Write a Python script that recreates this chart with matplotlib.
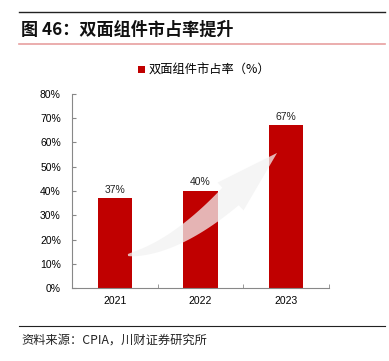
import numpy as np
import matplotlib.pyplot as plt
from matplotlib.patches import Polygon
from matplotlib.lines import Line2D

plt.rcParams['font.family'] = ['Liberation Sans', 'Noto Sans CJK SC', 'DejaVu Sans']

years = ['2021', '2022', '2023']
share = [37, 40, 67]
labels = ['37%', '40%', '67%']
series_name = '双面组件市占率（%）'

fig = plt.figure(figsize=(3.89, 3.61), dpi=100)
ax = fig.add_axes([0.185, 0.202, 0.661, 0.538])
ax_w, ax_h = 257.0, 194.0  # axes size in pixels, used for the arrow shape

x = range(len(years))
bars = ax.bar(x, share, width=0.4, color='#C00000', label=series_name, zorder=2)
for b, t in zip(bars, labels):
    ax.text(b.get_x() + b.get_width() / 2, b.get_height() + 1.5, t,
            ha='center', va='bottom', fontsize=7.5, color='#222222')

# decorative rising arrow (tapered curved shaft + head), built in axes pixels
T = np.array([56.0, 33.0])
C = np.array([158.5, 91.5])
tip = np.array([205.0, 135.0])
Q = C - 1.2 * (tip - C)
s = np.linspace(0, 1, 40)[:, None]
centre = (1 - s) ** 2 * T + 2 * (1 - s) * s * Q + s ** 2 * C
deriv = 2 * (1 - s) * (Q - T) + 2 * s * (C - Q)
normal = np.column_stack([-deriv[:, 1], deriv[:, 0]])
normal /= np.linalg.norm(normal, axis=1)[:, None]
half = (1 + 11 * s.ravel() ** 0.8)[:, None]
upper = centre + half * normal
lower = centre - half * normal
d = (tip - C) / np.linalg.norm(tip - C)
n_end = np.array([-d[1], d[0]])
head_l = C + 19 * n_end
head_r = C - 19 * n_end
pts = np.vstack([upper, head_l, tip, head_r, lower[::-1]])
pts = pts / np.array([ax_w, ax_h])
ax.add_patch(Polygon(pts, closed=True, transform=ax.transAxes,
                     facecolor='#f2f2f2', edgecolor='none', alpha=0.75, zorder=3))

ax.set_xlim(-0.5, 2.5)
ax.set_ylim(0, 80)
ax.set_yticks(range(0, 81, 10))
ax.set_yticklabels([f'{v}%' for v in range(0, 81, 10)], fontsize=7.5)
ax.set_xticks(list(x))
ax.set_xticklabels(years, fontsize=7.5)
ax.set_xticks([0.5, 1.5, 2.5], minor=True)
ax.tick_params(axis='x', which='major', length=0, pad=6)
ax.tick_params(axis='x', which='minor', direction='in', length=3, color='#888888')
ax.tick_params(axis='y', direction='in', length=3, color='#888888', pad=8)
for sp in ['top', 'right']:
    ax.spines[sp].set_visible(False)
ax.spines['left'].set_color('#888888')
ax.spines['bottom'].set_color('#888888')

fig.legend(loc='center', bbox_to_anchor=(0.525, 0.805), frameon=False,
           handlelength=0.55, handleheight=0.55, handletextpad=0.35,
           prop={'family': 'Noto Sans CJK SC', 'size': 8.8})

# header / footer
fig.add_artist(Line2D([0.049, 0.99], [0.967, 0.967], color='#222222', lw=1.0))
fig.add_artist(Line2D([0.049, 0.99], [0.878, 0.878], color='#E8A0A0', lw=1.2))
fig.text(0.054, 0.918, '图 46：双面组件市占率提升', fontsize=12.3, fontweight='bold',
         family=['Noto Sans CJK SC', 'DejaVu Sans'], va='center', color='#111111')
fig.add_artist(Line2D([0.049, 0.99], [0.097, 0.097], color='#222222', lw=0.8))
fig.text(0.054, 0.058, '资料来源：CPIA，川财证券研究所', fontsize=8.8, style='italic',
         family=['Noto Sans CJK SC', 'DejaVu Sans'], va='center', color='#222222')

fig.savefig('out.png', dpi=100)
